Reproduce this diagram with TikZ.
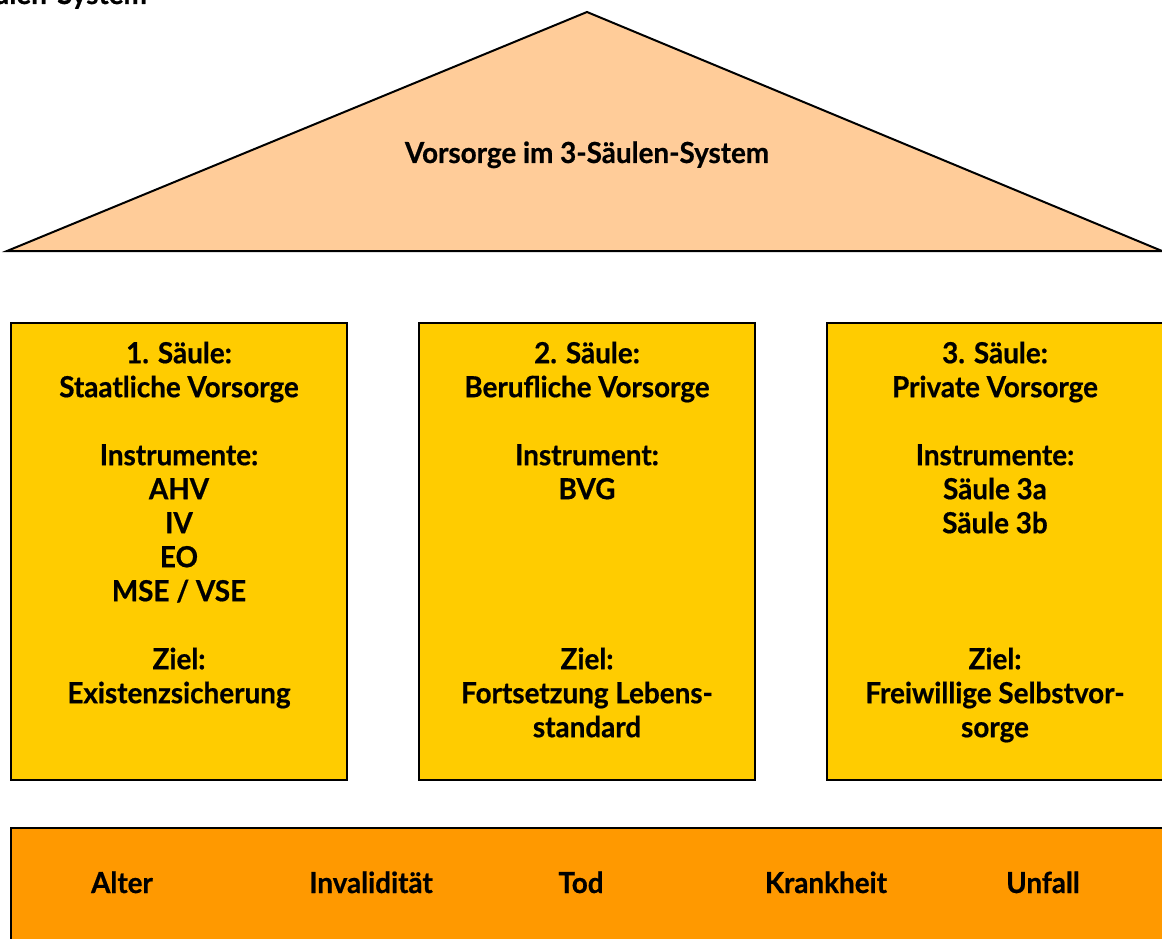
\documentclass[tikz,border=0pt]{standalone}
\usepackage{fontspec}
\setmainfont{Lato}[FakeStretch=0.96, BoldFeatures={FakeBold=0.6}]
\usepackage{tikz}

\definecolor{roofcol}{HTML}{FFCC99}
\definecolor{pillarcol}{HTML}{FFCC00}
\definecolor{basecol}{HTML}{FF9900}
\newcommand{\firstline}{\rule{0pt}{30pt}}

\begin{document}
\begin{tikzpicture}[x=1pt,y=-1pt,
    every node/.style={font=\fontsize{29}{34}\selectfont\bfseries, inner sep=0pt},
    pillar/.style={draw, line width=2pt, fill=pillarcol},
    pillartext/.style={anchor=north, align=center},
    risk/.style={anchor=base}]
      \useasboundingbox (0,0) rectangle (1162,939);
      \clip (0,0) rectangle (1162,939);
      \node [anchor=base east] (title) at (147,4) {3-Säulen-System};
      % Dach
      \draw [fill=roofcol, line width=2pt] (7,251) -- (587,12) -- (1162,251) -- cycle;
      \node [anchor=base] (roof) at (587,163) {Vorsorge im 3-Säulen-System};
      % Saeulen
      \draw [pillar] (11,323) rectangle (347,780);
      \draw [pillar] (419,323) rectangle (755,780);
      \draw [pillar] (827,323) rectangle (1175,780);
      \node [pillartext] (p1) at (179,333) {\firstline 1. Säule:\\Staatliche Vorsorge\\[34pt]
        Instrumente:\\AHV\\IV\\EO\\MSE / VSE\\[34pt]Ziel:\\Existenzsicherung};
      \node [pillartext] (p2) at (587,333) {\firstline 2. Säule:\\Berufliche Vorsorge\\[34pt]
        Instrument:\\BVG\\[136pt]Ziel:\\Fortsetzung Lebens-\\standard};
      \node [pillartext] (p3) at (995,333) {\firstline 3. Säule:\\Private Vorsorge\\[34pt]
        Instrumente:\\Säule 3a\\Säule 3b\\[102pt]Ziel:\\Freiwillige Selbstvor-\\sorge};
      % Fundament
      \draw [fill=basecol, line width=2pt] (11,828) rectangle (1175,960);
      \node [risk] (alter) at (122,893) {Alter};
      \node [risk] (inval) at (371,893) {Invalidität};
      \node [risk] (tod) at (581,893) {Tod};
      \node [risk] (krank) at (826,893) {Krankheit};
      \node [risk] (unfall) at (1043,893) {Unfall};
\end{tikzpicture}
\end{document}
